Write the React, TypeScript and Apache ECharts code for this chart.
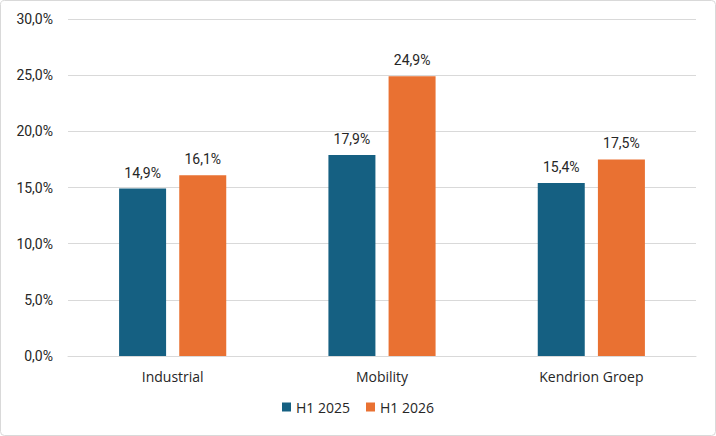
import React, { useEffect, useRef } from "react";
import * as echarts from "echarts";

const categories = ["Industrial", "Mobility", "Kendrion Groep"];
const seriesNames = ["H1 2025", "H1 2026"];
const valuesH12025 = [14.9, 17.9, 15.4];
const valuesH12026 = [16.1, 24.9, 17.5];
const colors = ["#156082", "#E97132"];

const fmt = (v: number) => v.toFixed(1).replace(".", ",") + "%";

export default function App() {
  const ref = useRef<HTMLDivElement>(null);
  useEffect(() => {
    if (!ref.current) return;
    const chart = echarts.init(ref.current, undefined, { renderer: "svg" });
    const font = "'Open Sans', sans-serif";
    const numFont = "Roboto, sans-serif";
    const textColor = "#262626";
    const mkSeries = (name: string, data: number[], color: string) => ({
      name,
      type: "bar",
      data,
      barWidth: 47,
      barGap: "28%",
      itemStyle: { color },
      label: {
        show: true,
        position: "top",
        distance: 9,
        formatter: (p: any) => fmt(p.value),
        color: textColor,
        fontFamily: numFont,
        fontSize: 14,
      },
    });
    chart.setOption({
      animation: false,
      backgroundColor: "#ffffff",
      graphic: [
        {
          type: "rect",
          shape: { x: 0.5, y: 0.5, width: 715, height: 435, r: 4 },
          style: { fill: "none", stroke: "#D9D9D9", lineWidth: 1 },
          silent: true,
        },
      ],
      grid: { left: 68, right: 20, top: 19, bottom: 80 },
      legend: {
        data: seriesNames,
        bottom: 17,
        left: "center",
        icon: "rect",
        itemWidth: 9,
        itemHeight: 9,
        itemGap: 16,
        textStyle: { color: textColor, fontFamily: font, fontSize: 14 },
      },
      xAxis: {
        type: "category",
        data: categories,
        axisLine: { show: true, lineStyle: { color: "#D9D9D9", width: 1 } },
        axisTick: { show: false },
        axisLabel: {
          color: textColor,
          fontFamily: font,
          fontSize: 14,
          margin: 13,
        },
      },
      yAxis: {
        type: "value",
        min: 0,
        max: 30,
        interval: 5,
        axisLine: { show: false },
        axisTick: { show: false },
        splitLine: { lineStyle: { color: "#D9D9D9", width: 1 } },
        axisLabel: {
          formatter: (v: number) => fmt(v),
          color: textColor,
          fontFamily: numFont,
          fontSize: 14,
          margin: 15,
        },
      },
      series: [
        mkSeries(seriesNames[0], valuesH12025, colors[0]),
        mkSeries(seriesNames[1], valuesH12026, colors[1]),
      ],
    });
    return () => chart.dispose();
  }, []);
  return (
    <div
      ref={ref}
      style={{ position: "absolute", left: 0, top: 0, width: 716, height: 436 }}
    />
  );
}
